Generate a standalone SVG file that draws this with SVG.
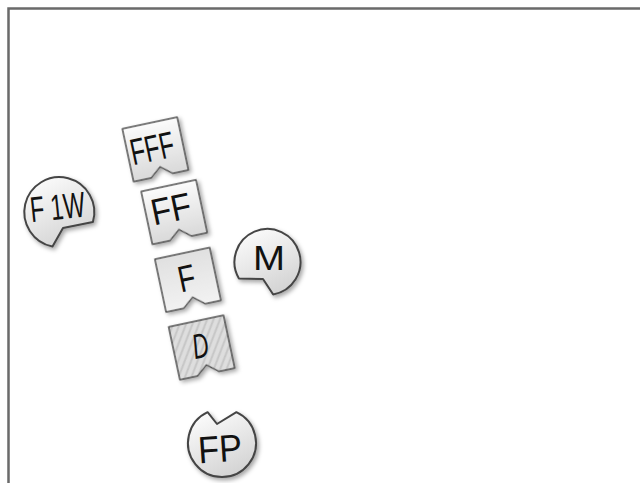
<svg xmlns="http://www.w3.org/2000/svg" width="640" height="483" viewBox="0 0 640 483">
  <defs>
    <linearGradient id="gTag" x1="0" y1="0" x2="0" y2="1">
      <stop offset="0" stop-color="#fbfbfb"/>
      <stop offset="1" stop-color="#d9d9d9"/>
    </linearGradient>
    <linearGradient id="gTagF" x1="0" y1="0" x2="0" y2="1">
      <stop offset="0" stop-color="#e0e0e0"/>
      <stop offset="1" stop-color="#f2f2f2"/>
    </linearGradient>
    <linearGradient id="gCirc" x1="0.2" y1="0" x2="0.7" y2="1">
      <stop offset="0" stop-color="#fcfcfc"/>
      <stop offset="1" stop-color="#d2d2d2"/>
    </linearGradient>
    <pattern id="hatch" patternUnits="userSpaceOnUse" width="6" height="6" patternTransform="rotate(33)">
      <rect width="6" height="6" fill="#dedede"/>
      <line x1="1" y1="0" x2="1" y2="6" stroke="#a8a8a8" stroke-width="0.9"/>
    </pattern>
    <filter id="sh" x="-20%" y="-20%" width="150%" height="150%">
      <feDropShadow dx="2" dy="2.5" stdDeviation="2" flood-color="#000" flood-opacity="0.35"/>
    </filter>
    <path id="tagShape" d="M-28,-27 L28,-27 L28,27 L12,27 L1,18 L-10,27 L-28,27 Z"/>
  </defs>
  <style>
    .tag { stroke: #505050; stroke-width: 1.5; stroke-linejoin: round; filter: url(#sh); }
    .circ { fill: url(#gCirc); stroke: #454545; stroke-width: 2; stroke-linejoin: round; filter: url(#sh); }
    .lbl { font-family: "Liberation Sans", "DejaVu Sans", sans-serif; fill: #111; text-anchor: middle; }
    .frame { fill: none; stroke: #6a6a6a; stroke-width: 2.5; }
  </style>

  <path class="frame" d="M8.5,483 V8.5 H640"/>

  <g id="connectors"></g>

  <g id="tag-fff" transform="translate(155.4,149.4) rotate(-12)">
    <use href="#tagShape" class="tag" fill="url(#gTag)"/>
    <text class="lbl" x="-3" y="11" font-size="37" textLength="44" lengthAdjust="spacingAndGlyphs">FFF</text>
  </g>

  <g id="tag-ff" transform="translate(174.2,212.1) rotate(-12)">
    <use href="#tagShape" class="tag" fill="url(#gTag)"/>
    <text class="lbl" x="-2.5" y="9" font-size="37" textLength="40" lengthAdjust="spacingAndGlyphs">FF</text>
  </g>

  <g id="tag-f" transform="translate(187.9,279.8) rotate(-12)">
    <use href="#tagShape" class="tag" fill="url(#gTagF)"/>
    <text class="lbl" x="-1" y="11" font-size="37" textLength="17" lengthAdjust="spacingAndGlyphs">F</text>
  </g>

  <g id="tag-d" transform="translate(201.7,347.5) rotate(-12)">
    <use href="#tagShape" class="tag" fill="url(#hatch)"/>
    <text class="lbl" x="-1" y="10" font-size="35" font-style="italic" textLength="16" lengthAdjust="spacingAndGlyphs">D</text>
  </g>

  <g id="circle-f1w">
    <path class="circ" d="M92.9,222 A35,35 0 1,0 52.5,246.5 L63,228 Z"/>
    <text class="lbl" x="57.5" y="219.5" font-size="36" textLength="55" lengthAdjust="spacingAndGlyphs" transform="rotate(-6 57.5 207)">F 1W</text>
  </g>

  <g id="circle-m">
    <path class="circ" d="M238.9,278.5 A33,33 0 1,1 273.2,294.5 L263,279 Z"/>
    <text class="lbl" x="269" y="270" font-size="35" textLength="32" lengthAdjust="spacingAndGlyphs">M</text>
  </g>

  <g id="circle-fp">
    <path class="circ" d="M236.4,412.2 A34,34 0 1,1 207.6,412.2 L217,424 Z"/>
    <text class="lbl" x="220" y="462" font-size="38" textLength="44" lengthAdjust="spacingAndGlyphs" transform="rotate(-4 220 449)">FP</text>
  </g>
</svg>
